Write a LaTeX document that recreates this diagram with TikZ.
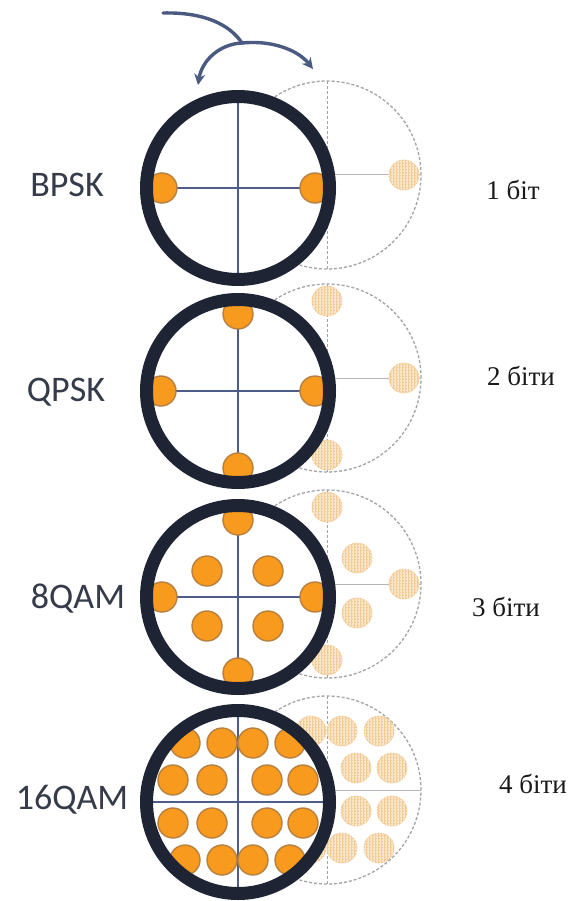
\documentclass[tikz,border=0pt]{standalone}
\usepackage{fontspec}
\setmainfont{Liberation Serif}
\newfontfamily\labfont{Carlito}
\newfontfamily\bitfont{Liberation Serif}
\usetikzlibrary{arrows.meta,patterns}
\definecolor{ringc}{HTML}{1E2433}
\definecolor{axisc}{HTML}{4E5C8A}
\definecolor{dotfill}{HTML}{F79A1E}
\definecolor{dotedge}{HTML}{B7803F}
\definecolor{ghostfill}{HTML}{FCE6C8}
\definecolor{ghostgrid}{HTML}{F2CC98}
\definecolor{ghostline}{HTML}{A4A4A4}
\definecolor{arrowc}{HTML}{4A5A80}
\definecolor{labc}{HTML}{363B4A}
\tikzset{
  ghostcirc/.style={draw=ghostline,line width=1.3pt,dash pattern=on 3pt off 2pt},
  ghostvert/.style={draw=ghostline,line width=1pt,dash pattern=on 3pt off 2pt},
  ghosthor/.style={draw=ghostline!80,line width=1pt},
  ghostdot/.style={preaction={fill=ghostfill},pattern=grid,pattern color=ghostgrid,draw=ghostgrid,line width=0.8pt,dash pattern=on 2pt off 1pt},
  mainaxis/.style={draw=axisc,line width=1.8pt},
  maindot/.style={fill=dotfill,draw=dotedge,line width=1.4pt},
  mainring/.style={draw=ringc,line width=13pt},
  arr/.style={draw=arrowc,line width=3.4pt,line cap=round},
  lab/.style={font=\labfont\fontsize{36}{40}\selectfont,text=labc,inner sep=0pt},
  bits/.style={font=\bitfont\fontsize{27}{30}\selectfont,text=black!90,inner sep=0pt}
}
\newcommand\modrow[3]{%
  \begin{scope}[shift={(#2)}]
    \draw[ghostcirc] (0,0) circle[radius=94pt];
    \draw[ghostvert] (0,-94) -- (0,94);
    \draw[ghosthor] (-94,0) -- (94,0);
    \foreach \p in {#3} \path[ghostdot] (\p) circle[radius=15pt];
  \end{scope}
  \begin{scope}[shift={(#1)}]
    \fill[white] (0,0) circle[radius=97pt];
    \draw[mainaxis] (0,-91) -- (0,91);
    \draw[mainaxis] (-91,0) -- (91,0);
    \foreach \p in {#3} \draw[maindot] (\p) circle[radius=15pt];
    \draw[mainring] (0,0) circle[radius=91.5pt];
  \end{scope}}
\begin{document}
\begin{tikzpicture}[x=1pt,y=-1pt]
\useasboundingbox (0,0) rectangle (572,901);
\fill[white] (0,0) rectangle (572,901);
% centres
\coordinate (c1) at (238,188); \coordinate (g1) at (327,175);
\coordinate (c2) at (238,391); \coordinate (g2) at (327,378);
\coordinate (c3) at (238,597); \coordinate (g3) at (327,584);
\coordinate (c4) at (238,802); \coordinate (g4) at (327,790);
\modrow{c1}{g1}{{-76,0},{77,0}}
\modrow{c2}{g2}{{0,-77},{-77,0},{77,0},{0,77}}
\modrow{c3}{g3}{{0,-77},{-76,0},{77,0},{0,76},{-31,-26},{30,-26},{-31,29},{30,29}}
\modrow{c4}{g4}{{-53,-59},{-16,-59},{15,-59},{52,-59},{-65,-22},{-26,-22},{29,-22},{65,-22},{-65,21},{-26,21},{29,21},{65,21},{-53,58},{-16,58},{15,58},{52,58}}
% top arrows
\coordinate (a0) at (163,13);
\coordinate (aj) at (242,43);
\coordinate (al) at (198,85);
\coordinate (ar) at (313,69);
\draw[arr] (a0) .. controls (205,12) and (230,25) .. (aj);
\draw[arr,-{Stealth[length=11pt,width=11pt]}] (aj) .. controls (220,44) and (202,60) .. (al);
\draw[arr,-{Stealth[length=11pt,width=11pt]}] (aj) .. controls (272,40) and (298,50) .. (ar);
% labels
\node[lab] (lbpsk) at (67,185) {BPSK};
\node[lab] (lqpsk) at (66,392) {QPSK};
\node[lab] (l8qam) at (78,599) {8QAM};
\node[lab] (l16qam) at (72,800) {16QAM};
\node[bits] (b1) at (513,190) {1 біт};
\node[bits] (b2) at (521,376) {2 біти};
\node[bits] (b3) at (506,607) {3 біти};
\node[bits] (b4) at (533,784) {4 біти};
\end{tikzpicture}
\end{document}
